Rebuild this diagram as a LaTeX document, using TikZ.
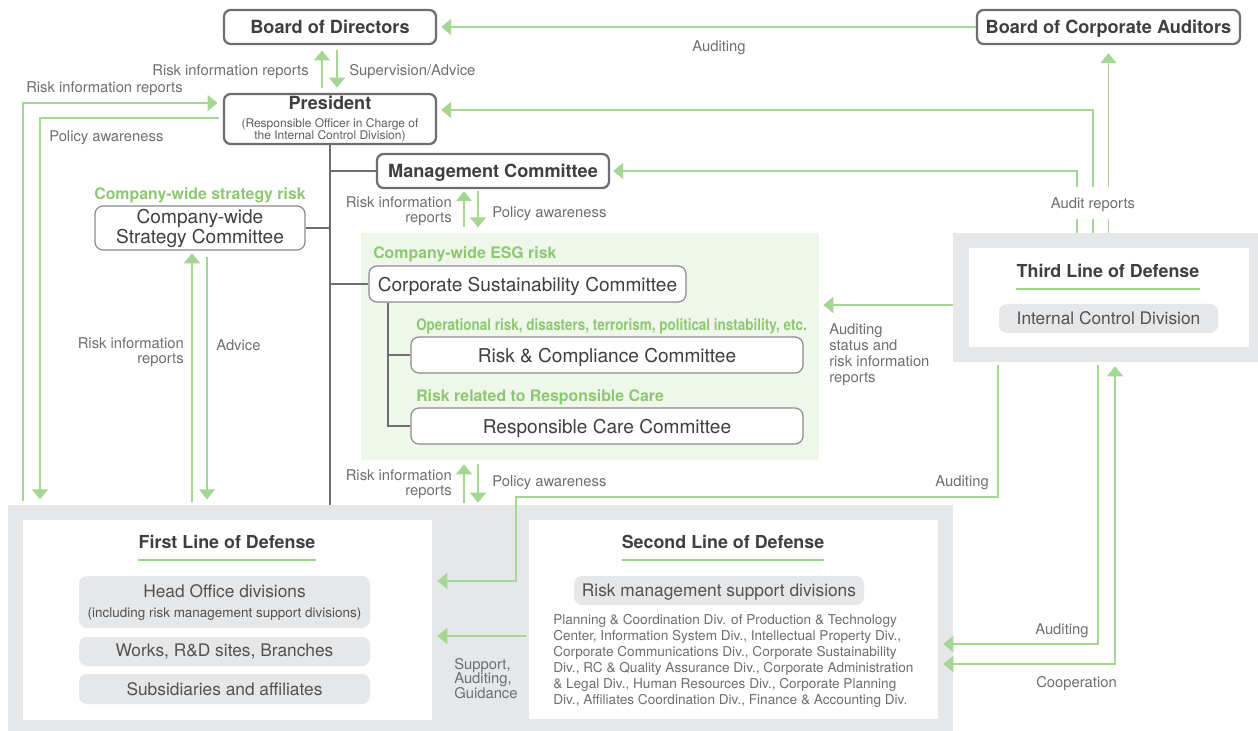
\documentclass[tikz,border=0pt]{standalone}
\usepackage{fontspec}
\usepackage{graphicx}
\setmainfont{TeX Gyre Heros}
\usetikzlibrary{arrows.meta, positioning, calc}
\definecolor{framegray}{HTML}{6D6E71}
\definecolor{panelgray}{HTML}{E6E7E8}
\definecolor{esgtint}{HTML}{EFF7EB}
\definecolor{linkgreen}{HTML}{A6D693}
\definecolor{riskgreen}{HTML}{8DC771}
\definecolor{titletext}{HTML}{3F3F40}
\definecolor{notetext}{HTML}{6D6E71}
\newcommand\subnote[1]{{\mdseries\color{notetext!85!black}\fontsize{9}{9}\selectfont #1}}

\begin{document}
\begin{tikzpicture}[x=0.75pt, y=-0.75pt,
    govbox/.style={draw=framegray, line width=1.7pt, rounded corners=5pt, fill=white,
      text=titletext, font=\bfseries\fontsize{13.6}{16}\selectfont, inner sep=0pt},
    cmtbox/.style={draw=framegray!80, line width=0.9pt, rounded corners=6pt, fill=white,
      text=titletext, font=\fontsize{14.3}{15}\selectfont, inner sep=0pt, align=center},
    unitbox/.style={fill=panelgray, rounded corners=6pt, text=titletext!90,
      font=\fontsize{13}{15}\selectfont, inner sep=0pt, align=center},
    flat/.style={text depth=0pt},
    panel/.style={fill=panelgray, inner sep=0pt},
    sheet/.style={fill=white, inner sep=0pt},
    linetitle/.style={font=\bfseries\fontsize{13.4}{16}\selectfont, text=titletext, inner sep=0pt},
    ruleline/.style={draw=linkgreen!90!green, line width=1.5pt},
    risklbl/.style={font=\bfseries\fontsize{11.9}{14}\selectfont, text=riskgreen, inner sep=0pt, flat},
    note/.style={font=\fontsize{11.1}{11.4}\selectfont, text=notetext, inner sep=0pt, align=left},
    link/.style={draw=linkgreen, line width=1pt},
    tree/.style={draw=framegray, line width=1.6pt},
    >={Triangle[width=12pt,length=7.5pt]}
  ]
  \useasboundingbox (0,0) rectangle (1258,731);

  % panels behind the three lines of defense
  \node[panel, minimum width=708.75pt, minimum height=169.5pt] (base) at (480.5,618) {};
  \node[sheet, minimum width=306.75pt, minimum height=150pt] (fld) at (227.5,620) {};
  \node[sheet, minimum width=306.75pt, minimum height=149.25pt] (sld) at (733.5,619.5) {};
  \node[panel, minimum width=228.75pt, minimum height=96.75pt] (tldo) at (1105.5,297.5) {};
  \node[sheet, minimum width=210pt, minimum height=74.25pt] (tld) at (1109,297.5) {};
  \node[fill=esgtint, inner sep=0pt, minimum width=343.5pt, minimum height=170.25pt] (esg) at (590,346.5) {};

  % governance boxes
  \node[govbox, flat, minimum width=159pt, minimum height=25.5pt] (bod) at (330,27) {Board of Directors};
  \node[govbox, flat, minimum width=197.25pt, minimum height=25.5pt] (bca) at (1108.5,27) {Board of Corporate Auditors};
  \node[govbox, minimum width=159pt, minimum height=37.5pt, align=center,
    font=\bfseries\fontsize{13.6}{9}\selectfont] (pres) at (330,119)
    {President\\[4.5pt]\subnote{(Responsible Officer in Charge of}\\\subnote{the Internal Control Division)}};
  \node[govbox, flat, minimum width=174pt, minimum height=25.5pt] (mgmt) at (493,171) {Management Committee};

  % committees
  \node[risklbl] (cwr) at (200,194) {Company-wide strategy risk};
  \node[cmtbox, minimum width=157.5pt, minimum height=33pt] (cwsc) at (200,228) {Company-wide\\Strategy Committee};
  \node[risklbl, anchor=west] (esgr) at (373,253) {Company-wide ESG risk};
  \node[cmtbox, flat, minimum width=237.75pt, minimum height=27pt] (csc) at (527.5,284) {Corporate Sustainability Committee};
  \node[risklbl, anchor=west] (opr) at (416,325)
    {\scalebox{0.848}[1]{Operational risk, disasters, terrorism, political instability, etc.}};
  \node[cmtbox, flat, minimum width=294pt, minimum height=27pt] (rcc) at (607,355) {Risk \& Compliance Committee};
  \node[risklbl, anchor=west] (rcr) at (416,396) {Risk related to Responsible Care};
  \node[cmtbox, flat, minimum width=294pt, minimum height=27pt] (rspc) at (607,426) {Responsible Care Committee};

  % reporting tree
  \coordinate (esgtrunk) at (388,0);
  \draw[tree] (pres.south) -- (pres.south |- base.north);
  \draw[tree] (pres.south |- mgmt.west) -- (mgmt.west);
  \draw[tree] (cwsc.east) -- (cwsc.east -| pres.south);
  \draw[tree] (pres.south |- csc.west) -- (csc.west);
  \draw[tree] (esgtrunk |- csc.south) |- (rspc.west);
  \draw[tree] (esgtrunk |- rcc.west) -- (rcc.west);

  % third line
  \node[linetitle] (tldt) at (1108,271) {Third Line of Defense};
  \draw[ruleline] ([yshift=-8.6pt]tldt.south west) -- ([yshift=-8.6pt]tldt.south east);
  \node[unitbox, minimum width=164.25pt, minimum height=21.75pt] (icd) at (1108.5,318.5) {Internal Control Division};

  % first line
  \node[linetitle] (fldt) at (227,542) {First Line of Defense};
  \draw[ruleline] ([yshift=-8.6pt]fldt.south west) -- ([yshift=-8.6pt]fldt.south east);
  \node[unitbox, minimum width=218.25pt, minimum height=39pt] (hod) at (224.5,602)
    {Head Office divisions\\{\fontsize{10.1}{12}\selectfont (including risk management support divisions)}};
  \node[unitbox, minimum width=218.25pt, minimum height=21.75pt] (wrk) at (224.5,651.5) {Works, R\&D sites, Branches};
  \node[unitbox, minimum width=218.25pt, minimum height=22.5pt] (subs) at (224.5,689) {Subsidiaries and affiliates};

  % second line
  \node[linetitle] (sldt) at (723,542) {Second Line of Defense};
  \draw[ruleline] ([yshift=-8.6pt]sldt.south west) -- ([yshift=-8.6pt]sldt.south east);
  \node[unitbox, flat, minimum width=217.5pt, minimum height=21.75pt] (rmsd) at (719,590.5) {Risk management support divisions};
  \node[note, anchor=north west, font=\fontsize{10.2}{12}\selectfont] (divs) at (553,614)
    {Planning \& Coordination Div. of Production \& Technology\\
     Center, Information System Div., Intellectual Property Div.,\\
     Corporate Communications Div., Corporate Sustainability\\
     Div., RC \& Quality Assurance Div., Corporate Administration\\
     \& Legal Div., Human Resources Div., Corporate Planning\\
     Div., Affiliates Coordination Div., Finance \& Accounting Div.};

  % x and y positions of the flows
  \coordinate (upx) at (322,0);
  \coordinate (dnx) at (337,0);
  \coordinate (rptx) at (23,0);
  \coordinate (polx) at (40,0);
  \coordinate (supx) at (192,0);
  \coordinate (sdnx) at (207,0);
  \coordinate (mupx) at (464,0);
  \coordinate (mdnx) at (478,0);
  \coordinate (armg) at (1077,0);
  \coordinate (arpr) at (1093,0);
  \coordinate (presy) at (0,103);
  \coordinate (polly) at (0,118);
  \coordinate (arpry) at (0,110);
  \coordinate (audy) at (0,305);
  \coordinate (c1) at (998,497);
  \coordinate (c2) at (516,497);
  \coordinate (fldy) at (0,581);
  \coordinate (supy) at (0,636);
  \coordinate (c3) at (1098,644);
  \coordinate (c4) at (1115,664);

  % green flows
  \draw[link, ->, shorten >=3pt] (bca.west) -- (bod.east);
  \draw[link, ->, shorten <=4pt, shorten >=4pt] (upx |- pres.north) -- (upx |- bod.south);
  \draw[link, ->, shorten <=4pt, shorten >=4pt] (dnx |- bod.south) -- (dnx |- pres.north);
  \draw[link, ->, shorten <=3pt, shorten >=4pt] (rptx |- base.north) |- (pres.west |- presy);
  \draw[link, ->, shorten <=3pt, shorten >=4pt] (pres.west |- polly) -| (polx |- base.north);
  \draw[link, ->, shorten <=2pt, shorten >=2pt] (supx |- base.north) -- (supx |- cwsc.south);
  \draw[link, ->, shorten <=5pt, shorten >=4pt] (sdnx |- cwsc.south) -- (sdnx |- base.north);
  \draw[link, ->, shorten <=4pt, shorten >=1.5pt] (mupx |- esg.north) -- (mupx |- mgmt.south);
  \draw[link, ->, shorten <=1.5pt, shorten >=4pt] (mdnx |- mgmt.south) -- (mdnx |- esg.north);
  \draw[link, ->, shorten <=1.5pt, shorten >=3pt] (mupx |- base.north) -- (mupx |- esg.south);
  \draw[link, ->, shorten <=3pt, shorten >=1.5pt] (mdnx |- esg.south) -- (mdnx |- base.north);
  \draw[link, ->, shorten >=2.25pt] (armg |- tldo.north) |- (mgmt.east);
  \draw[link, ->, shorten >=3pt] (arpr |- tldo.north) |- (pres.east |- arpry);
  \draw[link, ->, shorten >=6pt] (bca.south |- tldo.north) -- (bca.south);
  \draw[link, ->, shorten >=3pt] (tldo.west |- audy) -- (esg.east |- audy);
  \draw[link, ->, shorten <=2pt, shorten >=3.75pt] (c1 |- tldo.south) -- (c1) -- (c2) |- (fld.east |- fldy);
  \draw[link, ->, shorten <=2pt, shorten >=3.75pt] (sld.west |- supy) -- (fld.east |- supy);
  \draw[link, ->, shorten <=2pt, shorten >=3.75pt] (c3 |- tldo.south) |- (sld.east |- c3);
  \draw[link, <->, shorten <=3.75pt, shorten >=3pt] (sld.east |- c4) -| (c4 |- tldo.south);

  % flow labels
  \node[note, flat] (audbd) at (719,46) {Auditing};
  \node[note, flat, anchor=east] (rirbd) at (309,70) {Risk information reports};
  \node[note, flat, anchor=west] (supbd) at (349,70) {Supervision/Advice};
  \node[note, flat, anchor=west] (rirps) at (26,87) {Risk information reports};
  \node[note, flat, anchor=west] (polps) at (49,136) {Policy awareness};
  \node[note, flat, fill=white, inner xsep=1pt, inner ysep=8pt] (audrep) at (1093,203) {Audit reports};
  \node[note, anchor=east, align=right] (rirmc) at (452,211.5) {Risk information\\reports};
  \node[note, flat, anchor=west] (polmc) at (492,212) {Policy awareness};
  \node[note, anchor=east, align=right] (rirsc) at (184,352.5) {Risk information\\reports};
  \node[note, flat, anchor=west] (advsc) at (216,345) {Advice};
  \node[note, anchor=west, font=\fontsize{11.1}{12}\selectfont] (audst) at (829,355)
    {Auditing\\status and\\risk information\\reports};
  \node[note, anchor=east, align=right] (rirln) at (452,484.5) {Risk information\\reports};
  \node[note, flat, anchor=west] (polln) at (492,481) {Policy awareness};
  \node[note, flat, anchor=east] (audfl) at (989,481) {Auditing};
  \node[note, flat, anchor=west] (audsl) at (1035,629) {Auditing};
  \node[note, flat, anchor=west] (coop) at (1036,682) {Cooperation};
  \node[note, anchor=west, font=\fontsize{11.1}{10.9}\selectfont] (supg) at (454,678.5) {Support,\\Auditing,\\Guidance};
\end{tikzpicture}
\end{document}
